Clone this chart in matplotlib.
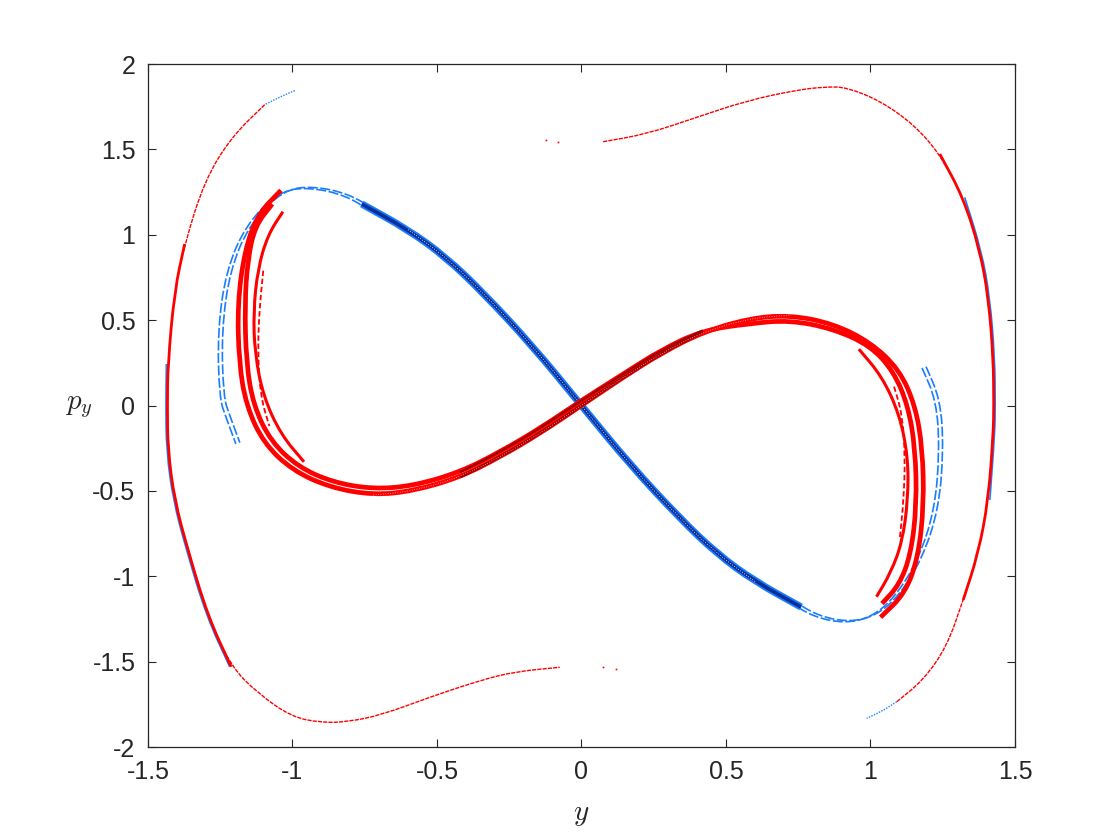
import matplotlib
matplotlib.use("Agg")
import matplotlib.pyplot as plt
from matplotlib import transforms
from matplotlib.path import Path
from matplotlib.patches import PathPatch

plt.rcParams['font.family'] = ['Liberation Sans', 'DejaVu Sans']
plt.rcParams['mathtext.fontset'] = 'cm'

# ---------------- data ----------------
# outer arcs (red), left and right
outer_left_y = [-1.096, -1.212, -1.304, -1.373, -1.408, -1.431, -1.433, -1.431, -1.408,
                -1.362, -1.292, -1.212, -1.119, -1.004, -0.900, -0.808, -0.693, -0.520,
                -0.347, -0.231, -0.075]
outer_left_p = [1.762, 1.571, 1.317, 0.946, 0.672, 0.243, 0.0, -0.261, -0.553,
                -0.846, -1.237, -1.530, -1.686, -1.823, -1.858, -1.852, -1.813, -1.705,
                -1.608, -1.559, -1.533]
outer_left_blue_y = [-0.992, -1.040, -1.096]
outer_left_blue_p = [1.844, 1.810, 1.762]

outer_right_y = [0.075, 0.226, 0.399, 0.572, 0.745, 0.848, 0.918, 1.033, 1.148, 1.240,
                 1.321, 1.379, 1.408, 1.425, 1.427, 1.425, 1.408, 1.373, 1.321, 1.264,
                 1.183, 1.091]
outer_right_p = [1.545, 1.590, 1.688, 1.785, 1.848, 1.867, 1.863, 1.785, 1.649, 1.473,
                 1.219, 0.907, 0.634, 0.282, 0.0, -0.163, -0.553, -0.866, -1.139, -1.413,
                 -1.608, -1.735]
outer_right_blue_y = [1.091, 1.040, 0.987]
outer_right_blue_p = [-1.735, -1.790, -1.832]

# isolated dots near the gaps
dots_y = [-0.124, -0.081, 0.075, 0.118]
dots_p = [1.555, 1.545, -1.533, -1.543]

# blue figure-eight: diagonal and the two side arcs
blue_diag_y = [-0.76, -0.60, -0.47, -0.34, -0.17, 0.0, 0.17, 0.34, 0.47, 0.60, 0.76]
blue_diag_p = [1.18, 1.03, 0.87, 0.66, 0.35, 0.0, -0.35, -0.66, -0.87, -1.03, -1.18]

blue_left_y = [-0.72, -0.81, -0.935, -1.039, -1.154, -1.223, -1.252, -1.246, -1.223, -1.189]
blue_left_p = [1.14, 1.235, 1.282, 1.258, 1.063, 0.790, 0.438, 0.048, -0.066, -0.221]
blue_right_y = [0.72, 0.81, 0.918, 1.010, 1.091, 1.171, 1.229, 1.246, 1.235, 1.183]
blue_right_p = [-1.14, -1.235, -1.272, -1.237, -1.120, -0.905, -0.612, -0.261, 0.032, 0.233]

# red figure-eight: two full strands
redA_y = [-1.04, -1.12, -1.165, -1.19, -1.185, -1.16, -1.10, -1.00, -0.87, -0.72, -0.58,
          -0.42, -0.28, -0.14, 0.0, 0.14, 0.28, 0.42, 0.58, 0.72, 0.87, 1.00, 1.10, 1.155,
          1.18, 1.185, 1.165, 1.12, 1.035]
redA_p = [1.26, 1.12, 0.91, 0.60, 0.25, 0.0, -0.22, -0.38, -0.48, -0.525, -0.50,
          -0.42, -0.30, -0.16, 0.0, 0.16, 0.31, 0.43, 0.51, 0.53, 0.48, 0.37, 0.21, 0.0,
          -0.25, -0.58, -0.89, -1.10, -1.24]
redB_y = [-1.07, -1.13, -1.155, -1.165, -1.16, -1.135, -1.075, -0.98, -0.86, -0.72, -0.58,
          -0.42, -0.28, -0.14, 0.0, 0.14, 0.28, 0.42, 0.58, 0.72, 0.87, 1.00, 1.08, 1.13,
          1.155, 1.16, 1.14, 1.10, 1.04]
redB_p = [1.18, 1.05, 0.85, 0.60, 0.25, 0.0, -0.21, -0.36, -0.45, -0.49, -0.47,
          -0.39, -0.27, -0.13, 0.03, 0.18, 0.33, 0.44, 0.48, 0.50, 0.45, 0.35, 0.20, 0.0,
          -0.25, -0.58, -0.87, -1.05, -1.16]

# shorter inner red strands in each lobe
redL1_y = [-1.033, -1.085, -1.12, -1.135, -1.13, -1.10, -1.04, -0.96]
redL1_p = [1.135, 1.0, 0.8, 0.55, 0.3, 0.05, -0.17, -0.33]
redL2_y = [-1.101, -1.115, -1.12, -1.11, -1.08]
redL2_p = [0.79, 0.55, 0.3, 0.05, -0.12]
redR1_y = [1.021, 1.07, 1.11, 1.13, 1.13, 1.10, 1.04, 0.96]
redR1_p = [-1.12, -0.98, -0.8, -0.55, -0.3, -0.05, 0.17, 0.33]
redR2_y = [1.102, 1.115, 1.12, 1.11, 1.08]
redR2_p = [-0.77, -0.55, -0.3, -0.05, 0.12]

xticks = [-1.5, -1, -0.5, 0, 0.5, 1, 1.5]
xticklabels = ['-1.5', '-1', '-0.5', '0', '0.5', '1', '1.5']
yticks = [-2, -1.5, -1, -0.5, 0, 0.5, 1, 1.5, 2]
yticklabels = ['-2', '-1.5', '-1', '-0.5', '0', '0.5', '1', '1.5', '2']

# ---------------- drawing ----------------
RED = '#ff0000'
DRED = '#a00000'
LBLUE = '#1a7dff'
NAVY = '#0a2f9a'

fig = plt.figure(figsize=(11.2, 8.4), dpi=100)
ax = fig.add_axes([0.1321, 0.1107, 0.7741, 0.8131])


def curve(xs, ys, transform=None, **kw):
    """Smooth curve using the read points as quadratic Bezier control points."""
    pts = list(zip(xs, ys))
    verts = [pts[0]]
    codes = [Path.MOVETO]
    if len(pts) > 2:
        verts.append(((pts[0][0] + pts[1][0]) / 2, (pts[0][1] + pts[1][1]) / 2))
        codes.append(Path.LINETO)
        for i in range(1, len(pts) - 1):
            mid = ((pts[i][0] + pts[i + 1][0]) / 2, (pts[i][1] + pts[i + 1][1]) / 2)
            verts += [pts[i], mid]
            codes += [Path.CURVE3, Path.CURVE3]
    verts.append(pts[-1])
    codes.append(Path.LINETO)
    patch = PathPatch(Path(verts, codes), fill=False, capstyle='butt',
                      transform=transform if transform is not None else ax.transData, **kw)
    ax.add_patch(patch)
    return patch


def shifted(dx, dy=0):
    return transforms.offset_copy(ax.transData, fig=fig, x=dx, y=dy, units='dots')


# outer arcs
curve(outer_left_y[5:12], outer_left_p[5:12], edgecolor=LBLUE, lw=1.2, transform=shifted(-1.5))
curve(outer_right_y[10:17], outer_right_p[10:17], edgecolor=LBLUE, lw=1.2, transform=shifted(1.5))
curve(outer_left_y, outer_left_p, edgecolor=RED, lw=1.0, linestyle=(0, (3, 0.8)))
curve(outer_right_y, outer_right_p, edgecolor=RED, lw=1.0, linestyle=(0, (3, 0.8)))
curve(outer_left_y[3:12], outer_left_p[3:12], edgecolor=RED, lw=2.0)
curve(outer_right_y[9:19], outer_right_p[9:19], edgecolor=RED, lw=2.0)
curve(outer_left_blue_y, outer_left_blue_p, edgecolor=LBLUE, lw=1.0, linestyle=(0, (1, 1)))
curve(outer_right_blue_y, outer_right_blue_p, edgecolor=LBLUE, lw=1.0, linestyle=(0, (1, 1)))
ax.plot(dots_y, dots_p, linestyle='none', marker='s', ms=1.2, color=RED, mec='none')

# blue side arcs (double dashed)
for dx in (-2.0, 2.0):
    curve(blue_left_y, blue_left_p, edgecolor=LBLUE, lw=1.2, linestyle=(0, (6, 1.5)),
          transform=shifted(dx, dx * 0.3))
    curve(blue_right_y, blue_right_p, edgecolor=LBLUE, lw=1.2, linestyle=(0, (6, 1.5)),
          transform=shifted(dx, dx * 0.3))

# blue diagonal
curve(blue_diag_y, blue_diag_p, edgecolor=LBLUE, lw=5.2)
curve(blue_diag_y, blue_diag_p, edgecolor=NAVY, lw=2.6)
curve(blue_diag_y[1:10], blue_diag_p[1:10], edgecolor='white', lw=0.6, linestyle=(0, (1, 2)))

# red strands
curve(redL1_y, redL1_p, edgecolor=RED, lw=2.2)
curve(redR1_y, redR1_p, edgecolor=RED, lw=2.2)
curve(redL2_y, redL2_p, edgecolor=RED, lw=1.3, linestyle=(0, (3, 1.5)))
curve(redR2_y, redR2_p, edgecolor=RED, lw=1.3, linestyle=(0, (3, 1.5)))
curve(redA_y, redA_p, edgecolor=RED, lw=3.4)
curve(redB_y, redB_p, edgecolor=RED, lw=3.4)
curve(redA_y[11:18], redA_p[11:18], edgecolor=DRED, lw=2.0)
curve(redB_y[11:18], redB_p[11:18], edgecolor=DRED, lw=1.6)
curve(redA_y[9:20], redA_p[9:20], edgecolor='white', lw=0.5, linestyle=(0, (1, 2.5)))

ax.set_xlim(-1.5, 1.5)
ax.set_ylim(-2, 2)
ax.set_xticks(xticks)
ax.set_xticklabels(xticklabels)
ax.set_yticks(yticks)
ax.set_yticklabels(yticklabels)
ax.tick_params(direction='in', length=6, width=0.8, top=True, right=True,
               labelsize=18, colors='#262626', pad=9)
for s in ax.spines.values():
    s.set_color('#262626')
    s.set_linewidth(0.9)

ax.set_xlabel(r'$y$', fontsize=21, color='#262626', labelpad=12)
ax.set_ylabel(r'$p_y$', fontsize=21, color='#262626', rotation=0, labelpad=10, va='center')

fig.savefig('out.png', dpi=100)
